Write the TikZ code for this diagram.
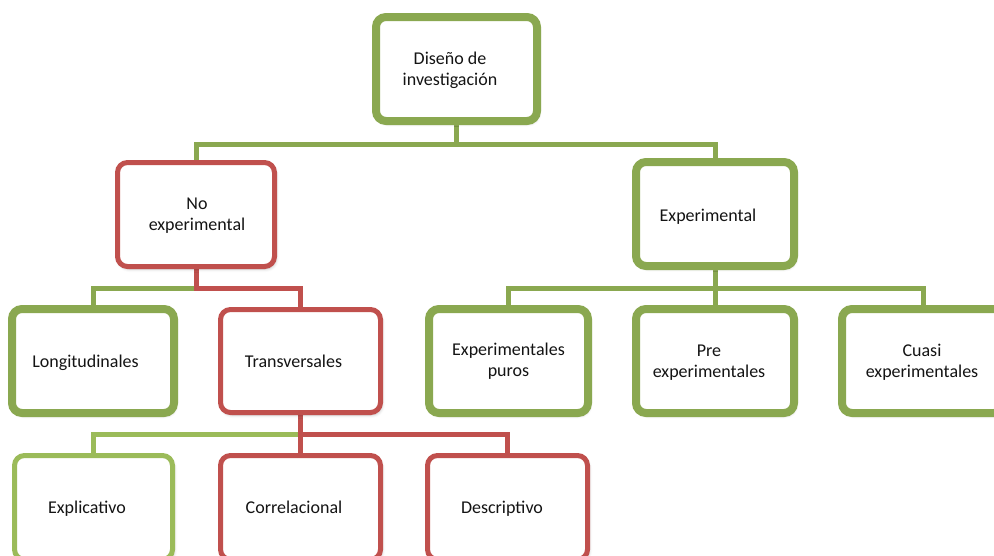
\documentclass[tikz,border=0pt]{standalone}
\usepackage{fontspec}
\setmainfont{Carlito}
\usetikzlibrary{shadows.blur}
\definecolor{grD}{RGB}{138,168,80}
\definecolor{grL}{RGB}{155,187,89}
\definecolor{rd}{RGB}{192,80,77}
\definecolor{txtc}{RGB}{20,20,20}
\begin{document}
\begin{tikzpicture}[x=1pt,y=-1pt,
  box/.style={draw, fill=white, rounded corners=10pt, minimum height=104pt, inner sep=0pt,
    blur shadow={shadow xshift=1.5pt, shadow yshift=-2.5pt, shadow opacity=25, shadow blur radius=3pt}},
  thick box/.style={box, line width=8pt},
  thin box/.style={box, line width=5pt},
  place/.style={minimum height=104pt, inner sep=0pt},
  conn/.style={line width=5pt, line join=miter},
  txt/.style={font=\fontsize{18}{21}\selectfont, text=txtc, align=center, inner sep=0pt}]
\path[use as bounding box] (0,0) rectangle (994,555);
\clip (0,0) rectangle (994,555);

% box positions
\begin{scope}[overlay]
\path (456.5,69) node[place, minimum width=161pt] (root) {};
\path (196,214.5) node[place, minimum width=157pt] (noexp) {};
\path (715,214) node[place, minimum width=158pt] (exp) {};
\path (93,361) node[place, minimum width=162pt] (long) {};
\path (300.5,361) node[place, minimum width=160pt, minimum height=103pt] (trans) {};
\path (508.5,361) node[place, minimum width=159pt] (puros) {};
\path (715,361) node[place, minimum width=158pt] (pre) {};
\path (923,361) node[place, minimum width=162pt] (cuasi) {};
\path (93.5,507.5) node[place, minimum width=158pt] (expl) {};
\path (300.5,507.5) node[place, minimum width=160pt] (corr) {};
\path (507.5,507.5) node[place, minimum width=160pt] (desc) {};
\end{scope}

% connectors
\draw[conn, grD] (root.south) -- ++(0,23) coordinate (j1) -| (noexp.north);
\draw[conn, grD] (j1) -| (exp.north);
\draw[conn, grD] (noexp.south) ++(0,21.5) coordinate (j2) -| (long.north);
\draw[conn, rd] (noexp.south) -- (j2) -| (trans.north);
\draw[conn, grD] (exp.south) -- ++(0,22) coordinate (j3) -| (puros.north);
\draw[conn, grD] (j3) -- (pre.north);
\draw[conn, grD] (j3) -| (cuasi.north);
\draw[conn, grL] (trans.south) ++(0,21.5) coordinate (j4) -| (expl.north);
\draw[conn, rd] (trans.south) -- (corr.north);
\draw[conn, rd] (j4) -| (desc.north);

% boxes
\node[thick box, draw=grD, minimum width=161pt] (rootB) at (root.center) {};
\node[thin box, draw=rd, minimum width=157pt] (noexpB) at (noexp.center) {};
\node[thick box, draw=grD, minimum width=158pt] (expB) at (exp.center) {};
\node[thick box, draw=grD, minimum width=162pt] (longB) at (long.center) {};
\node[thin box, draw=rd, minimum width=160pt, minimum height=103pt] (transB) at (trans.center) {};
\node[thick box, draw=grD, minimum width=159pt] (purosB) at (puros.center) {};
\node[thick box, draw=grD, minimum width=158pt] (preB) at (pre.center) {};
\node[thick box, draw=grD, minimum width=162pt] (cuasiB) at (cuasi.center) {};
\node[thin box, draw=grL, minimum width=158pt] (explB) at (expl.center) {};
\node[thin box, draw=rd, minimum width=160pt] (corrB) at (corr.center) {};
\node[thin box, draw=rd, minimum width=160pt] (descB) at (desc.center) {};

% texts
\node[txt] (troot) at ([xshift=-6.5pt,yshift=-1pt]root.center) {Diseño de\\investigación};
\node[txt] (tnoexp) at ([xshift=1pt,yshift=-1pt]noexp.center) {No\\experimental};
\node[txt] (texp) at ([xshift=-7pt,yshift=-3pt]exp.center) {Experimental};
\node[txt] (tlong) at ([xshift=-7.5pt,yshift=-2pt]long.center) {Longitudinales};
\node[txt] (ttrans) at ([xshift=-7pt]trans.center) {Transversales};
\node[txt] (tpuros) at (puros.center) {Experimentales\\puros};
\node[txt] (tpre) at ([xshift=-6pt,yshift=-2pt]pre.center) {Pre\\experimentales};
\node[txt] (tcuasi) at ([xshift=-1pt,yshift=-1.5pt]cuasi.center) {Cuasi\\experimentales};
\node[txt] (texpl) at ([xshift=-6.5pt,yshift=-1.5pt]expl.center) {Explicativo};
\node[txt] (tcorr) at ([xshift=-6.5pt]corr.center) {Correlacional};
\node[txt] (tdesc) at ([xshift=-5.5pt,yshift=-1.5pt]desc.center) {Descriptivo};
\end{tikzpicture}
\end{document}
